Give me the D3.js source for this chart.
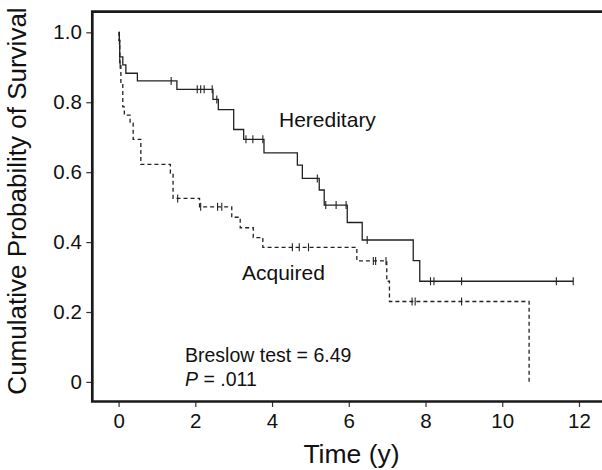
<!DOCTYPE html>
<html>
<head>
<meta charset="utf-8">
<script src="https://cdn.jsdelivr.net/npm/d3@7"></script>
<style>
  body { margin: 0; background: #fff; }
  svg { display: block; font-family: "Liberation Sans", Arial, sans-serif; }
</style>
</head>
<body>
<svg id="chart" width="602" height="470"></svg>
<script>
// --- Data (Kaplan-Meier steps) ---
const herTimes  = [0, 0.02, 0.03, 0.11, 0.19, 0.49, 1.52, 2.46, 2.60, 3.00, 3.26, 3.79, 4.66, 4.79, 5.23, 5.36, 5.96, 6.35, 7.68, 7.85, 11.85];
const herSurv   = [1.0, 0.977, 0.930, 0.907, 0.883, 0.861, 0.837, 0.808, 0.779, 0.722, 0.694, 0.655, 0.620, 0.582, 0.549, 0.506, 0.456, 0.406, 0.347, 0.288, 0.288];
const herCensor = [0.03, 1.37, 2.05, 2.14, 2.23, 2.44, 2.56, 3.32, 3.50, 3.76, 5.18, 5.40, 5.67, 5.93, 6.48, 8.13, 8.22, 8.94, 11.41, 11.85];

const acqTimes  = [0, 0.01, 0.03, 0.06, 0.11, 0.15, 0.30, 0.38, 0.58, 1.35, 1.42, 2.11, 2.95, 3.17, 3.51, 3.76, 6.21, 6.99, 7.06, 10.70];
const acqSurv   = [1.0, 0.977, 0.907, 0.85, 0.787, 0.763, 0.740, 0.694, 0.622, 0.597, 0.525, 0.501, 0.471, 0.441, 0.413, 0.385, 0.346, 0.288, 0.230, 0.0];
const acqCensor = [0.02, 0.04, 1.54, 2.14, 2.58, 2.69, 4.53, 4.71, 4.95, 6.64, 6.70, 6.97, 7.65, 7.73, 8.94];

const xTicks = [0, 2, 4, 6, 8, 10, 12];
const yTicks = [0, 0.2, 0.4, 0.6, 0.8, 1.0];

// --- Scales ---
const svg = d3.select('#chart');
const mLeft = 92.3, mTop = 11.7, mBottom = 401.5, mRight = 602;
const x = d3.scaleLinear().domain([-0.685, 12.6]).range([mLeft, mRight]);
const y = d3.scaleLinear().domain([-0.056, 1.059]).range([mBottom, mTop]);

// --- Axes (ticks + labels), frame drawn separately ---
const yAxis = svg.append('g')
  .attr('transform', `translate(${mLeft},0)`)
  .call(d3.axisLeft(y).tickValues(yTicks)
    .tickFormat(d => d === 0 ? '0' : d3.format('.1f')(d))
    .tickSize(6).tickSizeOuter(0).tickPadding(4.5));
const xAxis = svg.append('g')
  .attr('transform', `translate(0,${mBottom})`)
  .call(d3.axisBottom(x).tickValues(xTicks).tickSize(5.5).tickSizeOuter(0).tickPadding(6));

[yAxis, xAxis].forEach(g => {
  g.select('.domain').remove();
  g.selectAll('line').attr('stroke', '#333').attr('stroke-width', 1.2);
  g.selectAll('text').attr('fill', '#111').style('font-size', '20.5px')
    .style('font-family', '"Liberation Sans", Arial, sans-serif');
});

// Frame: left, top and bottom lines (right side runs off the picture)
svg.append('path')
  .attr('d', `M${mRight + 10},${mTop}H${mLeft}V${mBottom}H${mRight + 10}`)
  .attr('fill', 'none')
  .attr('stroke', '#1a1a1a')
  .attr('stroke-width', 2.7);

// --- Survival curves ---
const step = d3.line()
  .x(d => x(d[0]))
  .y(d => y(d[1]))
  .curve(d3.curveStepAfter);

// level of a step curve at time t (last event at or before t)
function levelAt(times, surv, t) {
  const i = d3.bisectRight(times, t) - 1;
  return surv[Math.max(0, i)];
}

function drawCurve(times, surv, censor, dash) {
  const g = svg.append('g');
  g.append('path')
    .datum(d3.zip(times, surv))
    .attr('d', step)
    .attr('fill', 'none')
    .attr('stroke', '#222')
    .attr('stroke-width', 1.3)
    .attr('stroke-dasharray', dash);
  g.selectAll('line.censor')
    .data(censor)
    .join('line')
      .attr('class', 'censor')
      .attr('x1', d => x(d)).attr('x2', d => x(d))
      .attr('y1', d => y(levelAt(times, surv, d)) - 4)
      .attr('y2', d => y(levelAt(times, surv, d)) + 4)
      .attr('stroke', '#222')
      .attr('stroke-width', 1.1);
}

drawCurve(herTimes, herSurv, herCensor, null);
drawCurve(acqTimes, acqSurv, acqCensor, '4,3');

// --- Annotations ---
const txt = (xx, yy, s, size) => svg.append('text')
  .attr('x', xx).attr('y', yy)
  .attr('fill', '#111')
  .style('font-size', size + 'px')
  .text(s);

txt(279, 127, 'Hereditary', 21);
txt(242, 279.5, 'Acquired', 21);
txt(185, 361.5, 'Breslow test = 6.49', 19.5);

const p = svg.append('text')
  .attr('x', 185).attr('y', 386)
  .attr('fill', '#111')
  .style('font-size', '19.5px');
p.append('tspan').style('font-style', 'italic').text('P');
p.append('tspan').text(' = .011');

// Axis titles
svg.append('text')
  .attr('transform', 'translate(26,201) rotate(-90)')
  .attr('text-anchor', 'middle')
  .attr('fill', '#111')
  .style('font-size', '26px')
  .text('Cumulative Probability of Survival');

svg.append('text')
  .attr('x', 351.5).attr('y', 463)
  .attr('text-anchor', 'middle')
  .attr('fill', '#111')
  .style('font-size', '26.5px')
  .text('Time (y)');
</script>
</body>
</html>
